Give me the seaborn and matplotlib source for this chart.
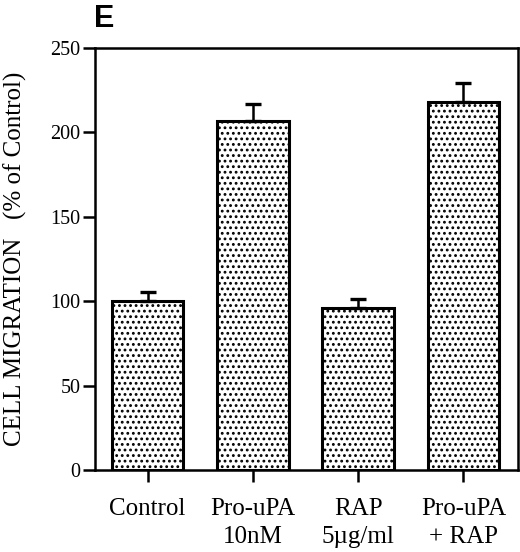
import seaborn as sns
import pandas as pd
import numpy as np
import matplotlib.pyplot as plt

# values (% of control)
conditions = ['Control', 'Pro-uPA\n10nM', 'RAP\n5\u00b5g/ml', 'Pro-uPA\n+ RAP']
migration = [100, 207, 96, 218]
sem = [5.5, 10, 5.5, 11]

df = pd.DataFrame({'condition': conditions, 'migration': migration})

sns.set_style('ticks', {'axes.edgecolor': 'black', 'text.color': 'black',
                        'xtick.color': 'black', 'ytick.color': 'black',
                        'axes.labelcolor': 'black'})
plt.rcParams['font.family'] = ['Liberation Serif', 'DejaVu Serif']
plt.rcParams['hatch.linewidth'] = 1.25
plt.rcParams['hatch.color'] = 'black'

fig = plt.figure(figsize=(5.2, 5.52), dpi=100)
ax = fig.add_axes([0.1827, 0.1486, 0.8135, 0.7644])

sns.barplot(data=df, x='condition', y='migration', ax=ax, color='white',
            edgecolor='black', linewidth=2.2, width=0.68, errorbar=None,
            hatch='...')

# upper error bars only
ax.errorbar(np.arange(len(conditions)), migration,
            yerr=[np.zeros(len(sem)), sem], fmt='none', ecolor='black',
            elinewidth=1.8, capsize=5.5, capthick=2.4)

ax.set_ylim(0, 250)
ax.set_xlim(-0.5, 3.52)
ax.set_yticks([0, 50, 100, 150, 200, 250])
ax.set_xlabel('')
ax.set_ylabel('CELL MIGRATION   (% of Control)', fontsize=18, labelpad=17)

for s in ax.spines.values():
    s.set_linewidth(1.8)
ax.tick_params(axis='both', width=1.8, length=8.5, labelsize=14.5)
ax.tick_params(axis='x', labelsize=18, pad=12)
ax.tick_params(axis='y', pad=2)
for lab in ax.get_xticklabels():
    lab.set_linespacing(1.35)

fig.text(0.181, 0.951, 'E', fontsize=22, fontweight='bold', color='black',
         family=['Liberation Sans'], va='baseline', ha='left')

fig.savefig('out.png', dpi=100)
